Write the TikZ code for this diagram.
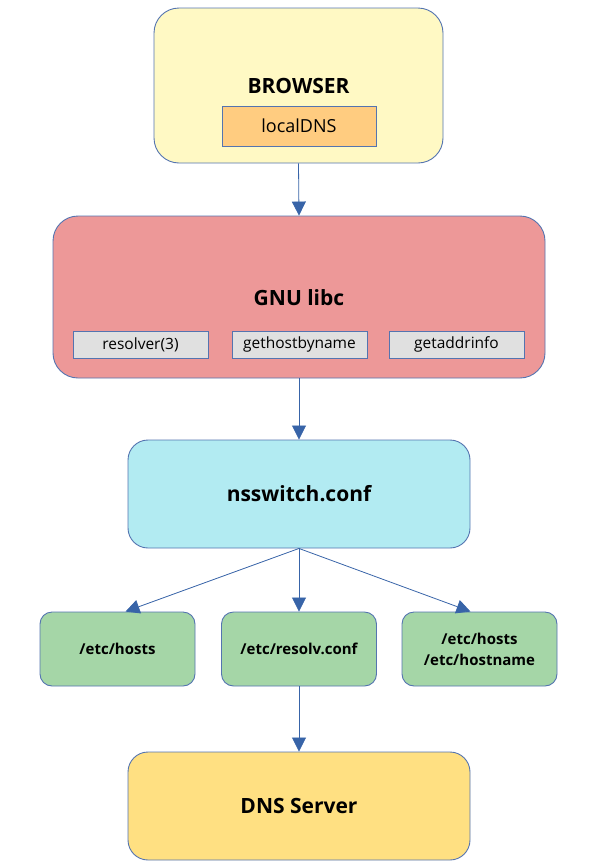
\documentclass[tikz,border=0pt]{standalone}
\usepackage{fontspec}
\setmainfont{Open Sans}
\usetikzlibrary{arrows.meta}
\definecolor{edge}{RGB}{84,116,176}
\definecolor{arrowc}{RGB}{56,100,168}
\definecolor{browserfill}{RGB}{255,249,196}
\definecolor{dnsfill}{RGB}{255,204,128}
\definecolor{libcfill}{RGB}{237,152,152}
\definecolor{callfill}{RGB}{224,224,224}
\definecolor{nssfill}{RGB}{178,235,242}
\definecolor{filefill}{RGB}{165,214,167}
\definecolor{serverfill}{RGB}{255,224,130}
\tikzset{
  layer/.style={draw=edge,line width=0.9pt,rounded corners=25pt,inner sep=0pt},
  filebox/.style={draw=edge,line width=0.9pt,rounded corners=12pt,fill=filefill,
    minimum width=155pt,minimum height=74pt,align=center,
    font=\fontsize{15}{21}\selectfont\bfseries},
  callbox/.style={draw=edge,line width=0.8pt,fill=callfill,minimum width=135pt,
    minimum height=27pt,inner sep=0pt,font=\fontsize{15.5}{18}\selectfont},
  title/.style={font=\fontsize{21}{25}\selectfont\bfseries},
  flow/.style={draw=arrowc,line width=0.8pt,-{Triangle[width=14pt,length=14pt]}}
}
\begin{document}
\begin{tikzpicture}[x=1pt,y=-1pt]
\useasboundingbox (0,0) rectangle (597,868);

% browser
\node[layer,fill=browserfill,minimum width=289pt,minimum height=155pt] (browser) at (298.5,85.5) {};
\node[title] (browsertxt) at (298.5,86) {BROWSER};
\node[draw=edge,line width=0.8pt,fill=dnsfill,minimum width=154pt,minimum height=40pt,
  inner sep=0pt,font=\fontsize{18}{21}\selectfont] (localdns) at (299,126) {localDNS};

% libc
\node[layer,fill=libcfill,minimum width=492pt,minimum height=162pt] (libc) at (299,297) {};
\node[title] (libctxt) at (299,298) {GNU libc};
\node[callbox] (resolver) at (140.5,344.5) {resolver(3)};
\node[callbox] (gethost) at (299.5,344.5) {gethostbyname};
\node[callbox] (getaddr) at (456.5,344.5) {getaddrinfo};

% nsswitch
\node[layer,rounded corners=20pt,fill=nssfill,minimum width=342pt,minimum height=108pt,
  title] (nss) at (299,494) {nsswitch.conf};

% files
\node[filebox] (hosts) at (117.5,649) {/etc/hosts};
\node[filebox] (resolv) at (299,649) {/etc/resolv.conf};
\node[filebox] (hostname) at (479.5,649) {/etc/hosts\\/etc/hostname};

% server
\node[layer,rounded corners=20pt,fill=serverfill,minimum width=342pt,minimum height=108pt,
  title] (server) at (299,806) {DNS Server};

\draw[flow] (browser.south) -- (libc.north);
\draw[flow] (libc.south) -- (nss.north);
\draw[flow] (nss.south) -- ([xshift=8pt]hosts.north);
\draw[flow] (nss.south) -- (resolv.north);
\draw[flow] (nss.south) -- ([xshift=-9pt]hostname.north);
\draw[flow] (resolv.south) -- (server.north);
\end{tikzpicture}
\end{document}
